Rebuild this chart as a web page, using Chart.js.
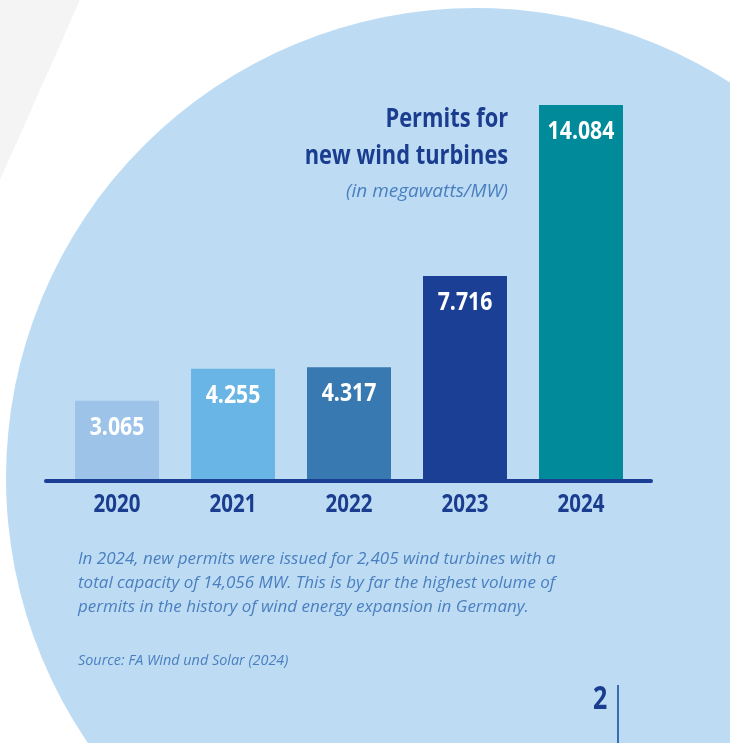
<!DOCTYPE html>
<html>
<head>
<meta charset="utf-8">
<script src="https://cdn.jsdelivr.net/npm/chart.js@4.4.1/dist/chart.umd.min.js"></script>
<style>
html, body { margin: 0; padding: 0; background: #fff; overflow: hidden; }
#page { position: relative; width: 730px; height: 743px; overflow: hidden; background: #fff; }
#wedge { position: absolute; left: 0; top: 0; width: 80px; height: 180px; background: #f4f4f4; clip-path: polygon(0 0, 100% 0, 0 100%); }
#circle { position: absolute; left: 6px; top: 8px; width: 940px; height: 940px; border-radius: 50%; background: #bddcf4; }
#chart { position: absolute; left: 0; top: 0; }
.cond { font-family: 'Open Sans', sans-serif; font-weight: bold; }
#title { position: absolute; right: 222px; top: 98px; font-size: 27px; line-height: 37px; color: #1b3d8f; text-align: right; white-space: nowrap; transform: scaleX(0.81); transform-origin: right top; }
#unit { position: absolute; right: 222px; top: 177px; font-family: 'Open Sans', sans-serif; font-style: italic; font-size: 19px; color: #4a7fbf; white-space: nowrap; }
#note { position: absolute; left: 78px; top: 546px; font-family: 'Open Sans', sans-serif; font-style: italic; font-size: 17px; line-height: 24px; color: #4a7fbf; white-space: nowrap; }
#source { position: absolute; left: 78px; top: 650px; font-family: 'Open Sans', sans-serif; font-style: italic; font-size: 14.4px; color: #4a7fbf; white-space: nowrap; }
#pagenum { position: absolute; left: 593px; top: 675px; font-size: 32px; color: #1b3d8f; transform: scaleX(0.78); transform-origin: left top; }
#rule { position: absolute; left: 617px; top: 685px; width: 2px; height: 60px; background: #3d6bb5; }
</style>
</head>
<body>
<div id="page">
  <div id="wedge"></div>
  <div id="circle"></div>
  <canvas id="chart" width="730" height="743"></canvas>
  <div id="title" class="cond">Permits for<br>new wind turbines</div>
  <div id="unit">(in megawatts/MW)</div>
  <div id="note">In 2024, new permits were issued for 2,405 wind turbines with a<br>total capacity of 14,056 MW. This is by far the highest volume of<br>permits in the history of wind energy expansion in Germany.</div>
  <div id="source">Source: FA Wind und Solar (2024)</div>
  <div id="pagenum" class="cond">2</div>
  <div id="rule"></div>
</div>
<script>
const years = ['2020', '2021', '2022', '2023', '2024']
const permitsMW = [3065, 4255, 4317, 7716, 14084]
const barColors = ['#9dc3e8', '#69b6e6', '#3779b0', '#1b3f95', '#008a9a']

const boldFont = "'Open Sans', sans-serif"

// german style thousands dot: 14084 -> 14.084
function fmt(v) {
    return String(v).replace(/\B(?=(\d{3})+(?!\d))/g, '.')
}

// no condensed face installed, so squeeze the text sideways
function narrowText(ctx, text, x, y, squeeze) {
    ctx.save()
    ctx.translate(x, y)
    ctx.scale(squeeze, 1)
    ctx.fillText(text, 0, 0)
    ctx.restore()
}

const baseLine = {
    id: 'baseLine',
    afterDatasetsDraw(chart) {
        const { ctx, chartArea } = chart
        ctx.save()
        ctx.strokeStyle = '#1b3f95'
        ctx.lineWidth = 4
        ctx.lineCap = 'round'
        ctx.beginPath()
        ctx.moveTo(chartArea.left - 13, chartArea.bottom - 2)
        ctx.lineTo(chartArea.right + 12, chartArea.bottom - 2)
        ctx.stroke()
        ctx.restore()
    }
}

const valueLabels = {
    id: 'valueLabels',
    afterDatasetsDraw(chart) {
        const ctx = chart.ctx
        const meta = chart.getDatasetMeta(0)
        ctx.save()
        ctx.fillStyle = '#ffffff'
        ctx.font = 'bold 25px ' + boldFont
        ctx.textAlign = 'center'
        ctx.textBaseline = 'alphabetic'
        meta.data.forEach((bar, i) => {
            narrowText(ctx, fmt(permitsMW[i]), bar.x, bar.y + 34, 0.85)
        })
        ctx.restore()
    }
}

const yearLabels = {
    id: 'yearLabels',
    afterDraw(chart) {
        const ctx = chart.ctx
        const xs = chart.scales.x
        ctx.save()
        ctx.fillStyle = '#1b3d8f'
        ctx.font = 'bold 25px ' + boldFont
        ctx.textAlign = 'center'
        ctx.textBaseline = 'alphabetic'
        xs.ticks.forEach((t, i) => {
            narrowText(ctx, xs.getLabelForValue(t.value), xs.getPixelForTick(i), xs.top + 29, 0.82)
        })
        ctx.restore()
    }
}

const ctx = document.getElementById('chart').getContext('2d')
const myChart = new Chart(ctx, {
    type: 'bar',
    data: {
        labels: years,
        datasets: [{
            data: permitsMW,
            backgroundColor: barColors,
            borderWidth: 0,
            barPercentage: 0.724,
            categoryPercentage: 1
        }]
    },
    options: {
        responsive: false,
        animation: false,
        devicePixelRatio: 1,
        layout: {
            padding: { left: 59, right: 91, top: 105, bottom: 220 }
        },
        plugins: {
            legend: { display: false },
            tooltip: { enabled: false }
        },
        scales: {
            x: {
                grid: { display: false, drawTicks: false },
                border: { display: false },
                afterFit(scale) { scale.height = 40 },
                ticks: { display: false }
            },
            y: {
                display: false,
                min: 0,
                max: 14084
            }
        }
    },
    plugins: [baseLine, valueLabels, yearLabels]
})
</script>
</body>
</html>
